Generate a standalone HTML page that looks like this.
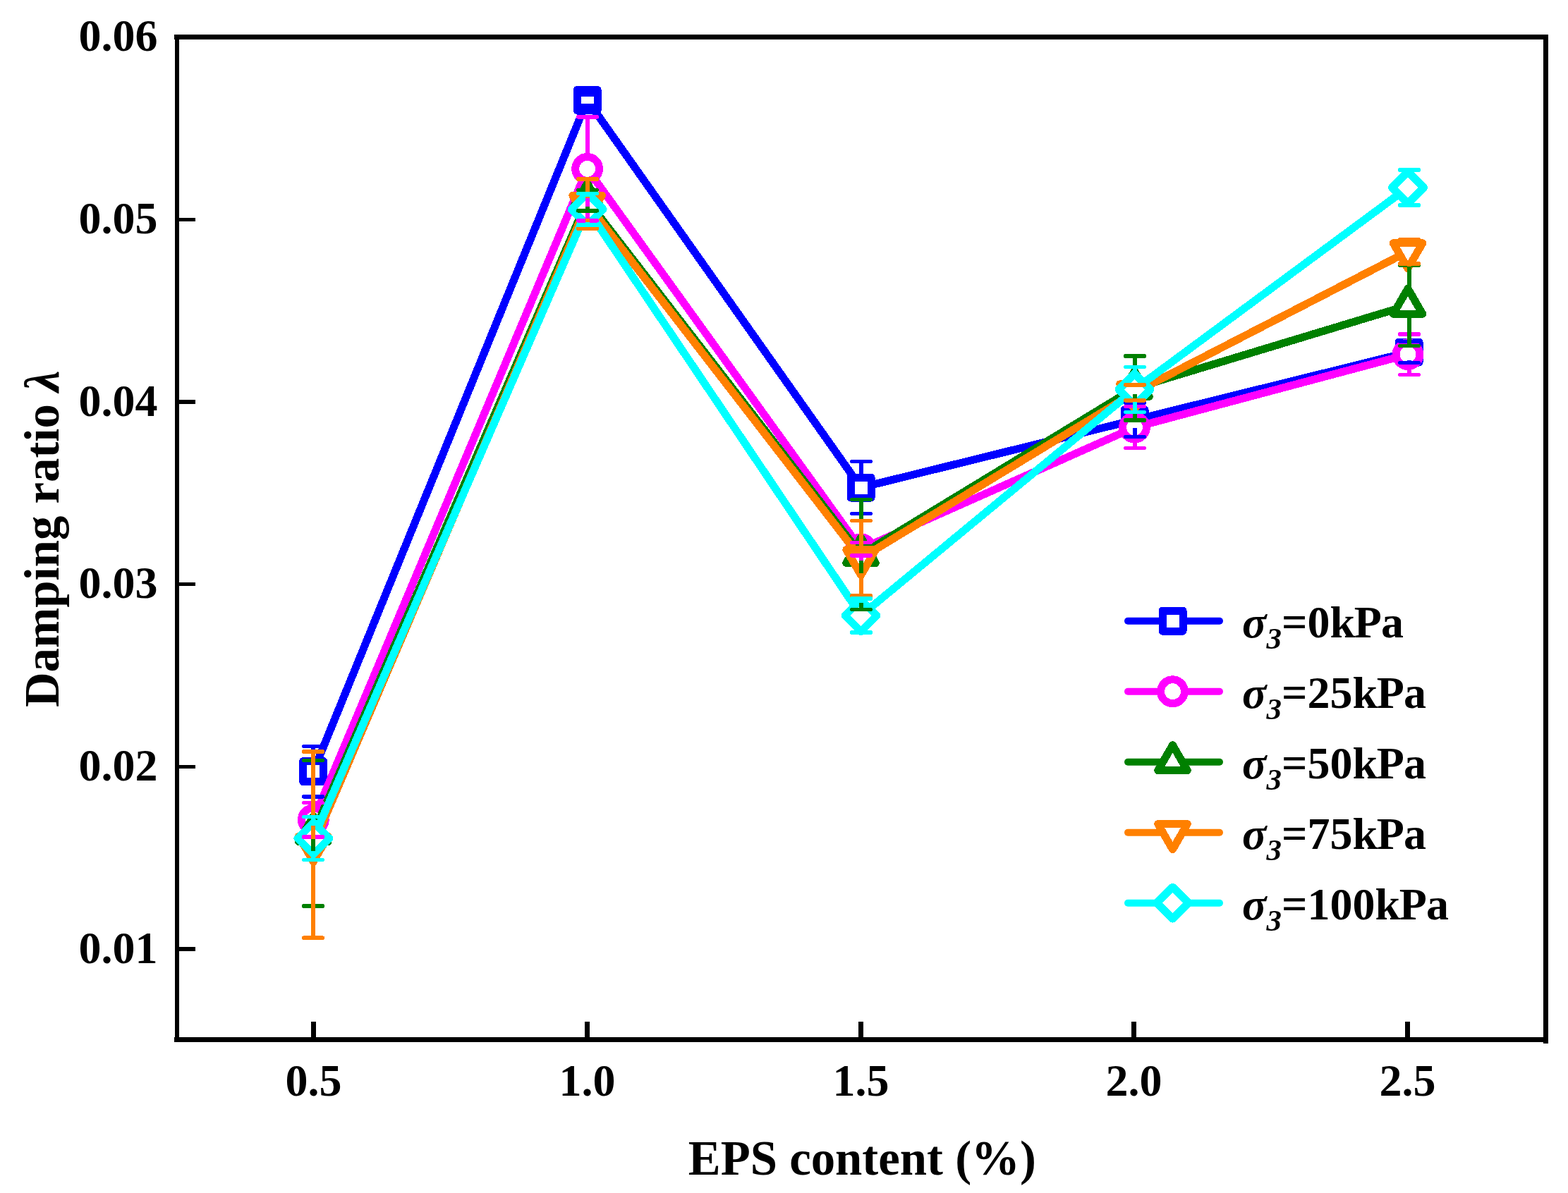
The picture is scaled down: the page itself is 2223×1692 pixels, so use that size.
<!DOCTYPE html>
<html><head><meta charset="utf-8"><title>Damping ratio vs EPS content</title>
<style>html,body{margin:0;padding:0;background:#fff;} svg{display:block;}</style></head>
<body><svg width="2223" height="1692" viewBox="0 0 2223 1692" shape-rendering="crispEdges">
<rect x="0" y="0" width="2223" height="1692" fill="#fff"/>
<g fill="#000">
<rect x="247" y="49" width="1948" height="7"/>
<rect x="247" y="1471" width="1948" height="7"/>
<rect x="248" y="49" width="6" height="1429"/>
<rect x="2188" y="49" width="7" height="1431"/>
<rect x="254" y="308.65" width="23" height="5.5"/>
<rect x="254" y="567.30" width="23" height="5.5"/>
<rect x="254" y="825.95" width="23" height="5.5"/>
<rect x="254" y="1084.60" width="23" height="5.5"/>
<rect x="254" y="1343.25" width="23" height="5.5"/>
<rect x="441.00" y="1449" width="7" height="22"/>
<rect x="828.90" y="1449" width="7" height="22"/>
<rect x="1217.00" y="1449" width="7" height="22"/>
<rect x="1604.00" y="1449" width="7" height="22"/>
<rect x="1992.00" y="1449" width="7" height="22"/>
</g>
<g stroke="#0000FF">
<polyline points="444.30,1094.10 832.60,142.00 1220.60,691.50 1608.50,595.70 1997.50,499.50" fill="none" stroke-width="11" stroke-linejoin="round"/>
<path d="M429.80,1079.60H458.80V1108.60H429.80Z" fill="#fff" stroke-width="11" stroke-linejoin="round"/>
<path d="M818.10,127.50H847.10V156.50H818.10Z" fill="#fff" stroke-width="11" stroke-linejoin="round"/>
<path d="M1206.10,677.00H1235.10V706.00H1206.10Z" fill="#fff" stroke-width="11" stroke-linejoin="round"/>
<path d="M1594.00,581.20H1623.00V610.20H1594.00Z" fill="#fff" stroke-width="11" stroke-linejoin="round"/>
<path d="M1983.00,485.00H2012.00V514.00H1983.00Z" fill="#fff" stroke-width="11" stroke-linejoin="round"/>
</g>
<g stroke="#FF00FF">
<polyline points="444.30,1162.75 832.60,239.40 1220.60,778.70 1608.50,606.10 1996.00,502.70" fill="none" stroke-width="11" stroke-linejoin="round"/>
<path d="M427.40,1162.75a16.9,16.9 0 1,0 33.8,0a16.9,16.9 0 1,0 -33.8,0Z" fill="#fff" stroke-width="11" stroke-linejoin="round"/>
<path d="M815.70,239.40a16.9,16.9 0 1,0 33.8,0a16.9,16.9 0 1,0 -33.8,0Z" fill="#fff" stroke-width="11" stroke-linejoin="round"/>
<path d="M1203.70,778.70a16.9,16.9 0 1,0 33.8,0a16.9,16.9 0 1,0 -33.8,0Z" fill="#fff" stroke-width="11" stroke-linejoin="round"/>
<path d="M1591.60,606.10a16.9,16.9 0 1,0 33.8,0a16.9,16.9 0 1,0 -33.8,0Z" fill="#fff" stroke-width="11" stroke-linejoin="round"/>
<path d="M1979.10,502.70a16.9,16.9 0 1,0 33.8,0a16.9,16.9 0 1,0 -33.8,0Z" fill="#fff" stroke-width="11" stroke-linejoin="round"/>
</g>
<g stroke="#008000">
<polyline points="444.30,1181.75 832.60,284.20 1220.60,786.50 1608.50,550.50 1996.00,433.25" fill="none" stroke-width="11" stroke-linejoin="round"/>
<path d="M444.30,1157.75L465.08,1193.75L423.52,1193.75Z" fill="#fff" stroke-width="11" stroke-linejoin="round"/>
<path d="M832.60,260.20L853.38,296.20L811.82,296.20Z" fill="#fff" stroke-width="11" stroke-linejoin="round"/>
<path d="M1220.60,762.50L1241.38,798.50L1199.82,798.50Z" fill="#fff" stroke-width="11" stroke-linejoin="round"/>
<path d="M1608.50,526.50L1629.28,562.50L1587.72,562.50Z" fill="#fff" stroke-width="11" stroke-linejoin="round"/>
<path d="M1996.00,409.25L2016.78,445.25L1975.22,445.25Z" fill="#fff" stroke-width="11" stroke-linejoin="round"/>
</g>
<g stroke="#FF8000">
<polyline points="444.30,1198.10 832.60,289.00 1220.60,791.70 1608.50,556.80 1996.00,356.80" fill="none" stroke-width="11" stroke-linejoin="round"/>
<path d="M444.30,1222.10L465.08,1186.10L423.52,1186.10Z" fill="#fff" stroke-width="11" stroke-linejoin="round"/>
<path d="M832.60,313.00L853.38,277.00L811.82,277.00Z" fill="#fff" stroke-width="11" stroke-linejoin="round"/>
<path d="M1220.60,815.70L1241.38,779.70L1199.82,779.70Z" fill="#fff" stroke-width="11" stroke-linejoin="round"/>
<path d="M1608.50,580.80L1629.28,544.80L1587.72,544.80Z" fill="#fff" stroke-width="11" stroke-linejoin="round"/>
<path d="M1996.00,380.80L2016.78,344.80L1975.22,344.80Z" fill="#fff" stroke-width="11" stroke-linejoin="round"/>
</g>
<g stroke="#00FFFF">
<polyline points="444.30,1189.00 832.60,296.75 1220.60,873.00 1608.50,552.40 1996.00,266.00" fill="none" stroke-width="11" stroke-linejoin="round"/>
<path d="M444.30,1166.50L466.80,1189.00L444.30,1211.50L421.80,1189.00Z" fill="#fff" stroke-width="11" stroke-linejoin="round"/>
<path d="M832.60,274.25L855.10,296.75L832.60,319.25L810.10,296.75Z" fill="#fff" stroke-width="11" stroke-linejoin="round"/>
<path d="M1220.60,850.50L1243.10,873.00L1220.60,895.50L1198.10,873.00Z" fill="#fff" stroke-width="11" stroke-linejoin="round"/>
<path d="M1608.50,529.90L1631.00,552.40L1608.50,574.90L1586.00,552.40Z" fill="#fff" stroke-width="11" stroke-linejoin="round"/>
<path d="M1996.00,243.50L2018.50,266.00L1996.00,288.50L1973.50,266.00Z" fill="#fff" stroke-width="11" stroke-linejoin="round"/>
</g>
<g stroke="#0000FF" fill="none">
<line x1="444.0" y1="1058.30" x2="444.0" y2="1082.70" stroke-width="6"/>
<line x1="444.0" y1="1105.50" x2="444.0" y2="1129.90" stroke-width="6"/>
<line x1="833.0" y1="134.50" x2="833.0" y2="130.60" stroke-width="6"/>
<line x1="833.0" y1="153.40" x2="833.0" y2="149.50" stroke-width="6"/>
<line x1="1221.0" y1="654.50" x2="1221.0" y2="680.10" stroke-width="6"/>
<line x1="1221.0" y1="702.90" x2="1221.0" y2="728.50" stroke-width="6"/>
<line x1="1609.0" y1="571.70" x2="1609.0" y2="584.30" stroke-width="6"/>
<line x1="1609.0" y1="607.10" x2="1609.0" y2="619.70" stroke-width="6"/>
<line x1="1998.0" y1="484.50" x2="1998.0" y2="488.10" stroke-width="6"/>
<line x1="1998.0" y1="510.90" x2="1998.0" y2="514.50" stroke-width="6"/>
<line x1="430.75" y1="1058.30" x2="457.25" y2="1058.30" stroke-width="5.5" stroke-linecap="round"/>
<line x1="430.75" y1="1129.90" x2="457.25" y2="1129.90" stroke-width="5.5" stroke-linecap="round"/>
<line x1="819.75" y1="134.50" x2="846.25" y2="134.50" stroke-width="5.5" stroke-linecap="round"/>
<line x1="819.75" y1="149.50" x2="846.25" y2="149.50" stroke-width="5.5" stroke-linecap="round"/>
<line x1="1207.75" y1="654.50" x2="1234.25" y2="654.50" stroke-width="5.5" stroke-linecap="round"/>
<line x1="1207.75" y1="728.50" x2="1234.25" y2="728.50" stroke-width="5.5" stroke-linecap="round"/>
<line x1="1595.75" y1="571.70" x2="1622.25" y2="571.70" stroke-width="5.5" stroke-linecap="round"/>
<line x1="1595.75" y1="619.70" x2="1622.25" y2="619.70" stroke-width="5.5" stroke-linecap="round"/>
<line x1="1984.75" y1="484.50" x2="2011.25" y2="484.50" stroke-width="5.5" stroke-linecap="round"/>
<line x1="1984.75" y1="514.50" x2="2011.25" y2="514.50" stroke-width="5.5" stroke-linecap="round"/>
</g>
<g stroke="#FF00FF" fill="none">
<line x1="444.0" y1="1138.50" x2="444.0" y2="1145.45" stroke-width="6"/>
<line x1="444.0" y1="1180.05" x2="444.0" y2="1187.00" stroke-width="6"/>
<line x1="833.0" y1="165.90" x2="833.0" y2="222.10" stroke-width="6"/>
<line x1="833.0" y1="256.70" x2="833.0" y2="312.90" stroke-width="6"/>
<line x1="1221.0" y1="769.50" x2="1221.0" y2="761.40" stroke-width="6"/>
<line x1="1221.0" y1="796.00" x2="1221.0" y2="787.90" stroke-width="6"/>
<line x1="1609.0" y1="576.70" x2="1609.0" y2="588.80" stroke-width="6"/>
<line x1="1609.0" y1="623.40" x2="1609.0" y2="635.50" stroke-width="6"/>
<line x1="1998.0" y1="474.00" x2="1998.0" y2="485.40" stroke-width="6"/>
<line x1="1998.0" y1="520.00" x2="1998.0" y2="531.40" stroke-width="6"/>
<line x1="430.75" y1="1138.50" x2="457.25" y2="1138.50" stroke-width="5.5" stroke-linecap="round"/>
<line x1="430.75" y1="1187.00" x2="457.25" y2="1187.00" stroke-width="5.5" stroke-linecap="round"/>
<line x1="819.75" y1="165.90" x2="846.25" y2="165.90" stroke-width="5.5" stroke-linecap="round"/>
<line x1="819.75" y1="312.90" x2="846.25" y2="312.90" stroke-width="5.5" stroke-linecap="round"/>
<line x1="1207.75" y1="769.50" x2="1234.25" y2="769.50" stroke-width="5.5" stroke-linecap="round"/>
<line x1="1207.75" y1="787.90" x2="1234.25" y2="787.90" stroke-width="5.5" stroke-linecap="round"/>
<line x1="1595.75" y1="576.70" x2="1622.25" y2="576.70" stroke-width="5.5" stroke-linecap="round"/>
<line x1="1595.75" y1="635.50" x2="1622.25" y2="635.50" stroke-width="5.5" stroke-linecap="round"/>
<line x1="1984.75" y1="474.00" x2="2011.25" y2="474.00" stroke-width="5.5" stroke-linecap="round"/>
<line x1="1984.75" y1="531.40" x2="2011.25" y2="531.40" stroke-width="5.5" stroke-linecap="round"/>
</g>
<g stroke="#008000" fill="none">
<line x1="444.0" y1="1078.50" x2="444.0" y2="1160.75" stroke-width="6"/>
<line x1="444.0" y1="1190.25" x2="444.0" y2="1285.00" stroke-width="6"/>
<line x1="833.0" y1="269.50" x2="833.0" y2="263.20" stroke-width="6"/>
<line x1="833.0" y1="292.70" x2="833.0" y2="298.90" stroke-width="6"/>
<line x1="1221.0" y1="708.50" x2="1221.0" y2="765.50" stroke-width="6"/>
<line x1="1221.0" y1="795.00" x2="1221.0" y2="864.50" stroke-width="6"/>
<line x1="1609.0" y1="505.00" x2="1609.0" y2="529.50" stroke-width="6"/>
<line x1="1609.0" y1="559.00" x2="1609.0" y2="596.00" stroke-width="6"/>
<line x1="1998.0" y1="376.00" x2="1998.0" y2="412.25" stroke-width="6"/>
<line x1="1998.0" y1="441.75" x2="1998.0" y2="490.50" stroke-width="6"/>
<line x1="430.75" y1="1078.50" x2="457.25" y2="1078.50" stroke-width="5.5" stroke-linecap="round"/>
<line x1="430.75" y1="1285.00" x2="457.25" y2="1285.00" stroke-width="5.5" stroke-linecap="round"/>
<line x1="819.75" y1="269.50" x2="846.25" y2="269.50" stroke-width="5.5" stroke-linecap="round"/>
<line x1="819.75" y1="298.90" x2="846.25" y2="298.90" stroke-width="5.5" stroke-linecap="round"/>
<line x1="1207.75" y1="708.50" x2="1234.25" y2="708.50" stroke-width="5.5" stroke-linecap="round"/>
<line x1="1207.75" y1="864.50" x2="1234.25" y2="864.50" stroke-width="5.5" stroke-linecap="round"/>
<line x1="1595.75" y1="505.00" x2="1622.25" y2="505.00" stroke-width="5.5" stroke-linecap="round"/>
<line x1="1595.75" y1="596.00" x2="1622.25" y2="596.00" stroke-width="5.5" stroke-linecap="round"/>
<line x1="1984.75" y1="376.00" x2="2011.25" y2="376.00" stroke-width="5.5" stroke-linecap="round"/>
<line x1="1984.75" y1="490.50" x2="2011.25" y2="490.50" stroke-width="5.5" stroke-linecap="round"/>
</g>
<g stroke="#FF8000" fill="none">
<line x1="444.0" y1="1066.00" x2="444.0" y2="1189.60" stroke-width="6"/>
<line x1="444.0" y1="1219.10" x2="444.0" y2="1330.20" stroke-width="6"/>
<line x1="833.0" y1="254.00" x2="833.0" y2="280.50" stroke-width="6"/>
<line x1="833.0" y1="310.00" x2="833.0" y2="324.00" stroke-width="6"/>
<line x1="1221.0" y1="738.50" x2="1221.0" y2="783.20" stroke-width="6"/>
<line x1="1221.0" y1="812.70" x2="1221.0" y2="844.90" stroke-width="6"/>
<line x1="1609.0" y1="545.80" x2="1609.0" y2="548.30" stroke-width="6"/>
<line x1="1609.0" y1="577.80" x2="1609.0" y2="567.80" stroke-width="6"/>
<line x1="1998.0" y1="339.60" x2="1998.0" y2="348.30" stroke-width="6"/>
<line x1="1998.0" y1="377.80" x2="1998.0" y2="374.00" stroke-width="6"/>
<line x1="430.75" y1="1066.00" x2="457.25" y2="1066.00" stroke-width="5.5" stroke-linecap="round"/>
<line x1="430.75" y1="1330.20" x2="457.25" y2="1330.20" stroke-width="5.5" stroke-linecap="round"/>
<line x1="819.75" y1="254.00" x2="846.25" y2="254.00" stroke-width="5.5" stroke-linecap="round"/>
<line x1="819.75" y1="324.00" x2="846.25" y2="324.00" stroke-width="5.5" stroke-linecap="round"/>
<line x1="1207.75" y1="738.50" x2="1234.25" y2="738.50" stroke-width="5.5" stroke-linecap="round"/>
<line x1="1207.75" y1="844.90" x2="1234.25" y2="844.90" stroke-width="5.5" stroke-linecap="round"/>
<line x1="1595.75" y1="545.80" x2="1622.25" y2="545.80" stroke-width="5.5" stroke-linecap="round"/>
<line x1="1595.75" y1="567.80" x2="1622.25" y2="567.80" stroke-width="5.5" stroke-linecap="round"/>
<line x1="1984.75" y1="339.60" x2="2011.25" y2="339.60" stroke-width="5.5" stroke-linecap="round"/>
<line x1="1984.75" y1="374.00" x2="2011.25" y2="374.00" stroke-width="5.5" stroke-linecap="round"/>
</g>
<g stroke="#00FFFF" fill="none">
<line x1="444.0" y1="1158.60" x2="444.0" y2="1171.00" stroke-width="6"/>
<line x1="444.0" y1="1207.00" x2="444.0" y2="1219.40" stroke-width="6"/>
<line x1="833.0" y1="274.50" x2="833.0" y2="278.75" stroke-width="6"/>
<line x1="833.0" y1="314.75" x2="833.0" y2="319.00" stroke-width="6"/>
<line x1="1221.0" y1="849.00" x2="1221.0" y2="855.00" stroke-width="6"/>
<line x1="1221.0" y1="891.00" x2="1221.0" y2="897.00" stroke-width="6"/>
<line x1="1609.0" y1="520.40" x2="1609.0" y2="534.40" stroke-width="6"/>
<line x1="1609.0" y1="570.40" x2="1609.0" y2="584.40" stroke-width="6"/>
<line x1="1998.0" y1="241.00" x2="1998.0" y2="248.00" stroke-width="6"/>
<line x1="1998.0" y1="284.00" x2="1998.0" y2="291.00" stroke-width="6"/>
<line x1="430.75" y1="1158.60" x2="457.25" y2="1158.60" stroke-width="5.5" stroke-linecap="round"/>
<line x1="430.75" y1="1219.40" x2="457.25" y2="1219.40" stroke-width="5.5" stroke-linecap="round"/>
<line x1="819.75" y1="274.50" x2="846.25" y2="274.50" stroke-width="5.5" stroke-linecap="round"/>
<line x1="819.75" y1="319.00" x2="846.25" y2="319.00" stroke-width="5.5" stroke-linecap="round"/>
<line x1="1207.75" y1="849.00" x2="1234.25" y2="849.00" stroke-width="5.5" stroke-linecap="round"/>
<line x1="1207.75" y1="897.00" x2="1234.25" y2="897.00" stroke-width="5.5" stroke-linecap="round"/>
<line x1="1595.75" y1="520.40" x2="1622.25" y2="520.40" stroke-width="5.5" stroke-linecap="round"/>
<line x1="1595.75" y1="584.40" x2="1622.25" y2="584.40" stroke-width="5.5" stroke-linecap="round"/>
<line x1="1984.75" y1="241.00" x2="2011.25" y2="241.00" stroke-width="5.5" stroke-linecap="round"/>
<line x1="1984.75" y1="291.00" x2="2011.25" y2="291.00" stroke-width="5.5" stroke-linecap="round"/>
</g>
<g font-family="Liberation Serif, Times New Roman, serif" font-weight="bold" font-size="64" fill="#000">
<text x="223.4" y="72.45" text-anchor="end">0.06</text>
<text x="223.4" y="331.10" text-anchor="end">0.05</text>
<text x="223.4" y="589.75" text-anchor="end">0.04</text>
<text x="223.4" y="848.40" text-anchor="end">0.03</text>
<text x="223.4" y="1107.05" text-anchor="end">0.02</text>
<text x="223.4" y="1365.70" text-anchor="end">0.01</text>
<text x="444.50" y="1554.4" text-anchor="middle">0.5</text>
<text x="832.40" y="1554.4" text-anchor="middle">1.0</text>
<text x="1220.50" y="1554.4" text-anchor="middle">1.5</text>
<text x="1607.50" y="1554.4" text-anchor="middle">2.0</text>
<text x="1995.50" y="1554.4" text-anchor="middle">2.5</text>
</g>
<g font-family="Liberation Serif, Times New Roman, serif" font-weight="bold" font-size="68.8" fill="#000">
<text x="975.8" y="1665.9">EPS content (%)</text>
<text transform="translate(83,1003.1) rotate(-90)">Damping ratio <tspan font-style="italic">λ</tspan></text>
</g>
<g stroke="#0000FF" fill="none">
<line x1="1599" y1="880.7" x2="1729" y2="880.7" stroke-width="10" stroke-linecap="round" shape-rendering="auto"/>
<path d="M1648.00,866.20H1677.00V895.20H1648.00Z" fill="#fff" stroke-width="11" stroke-linejoin="round"/>
</g>
<text x="1761" y="903.7" font-family="Liberation Serif, Times New Roman, serif" font-weight="bold" font-size="64" fill="#000"><tspan font-style="italic">σ</tspan><tspan font-style="italic" font-size="43" dy="16">3</tspan><tspan dy="-16">=0k</tspan><tspan dx="-1.2">P</tspan><tspan dx="-1">a</tspan></text>
<g stroke="#FF00FF" fill="none">
<line x1="1599" y1="980.7" x2="1729" y2="980.7" stroke-width="10" stroke-linecap="round" shape-rendering="auto"/>
<path d="M1645.60,980.70a16.9,16.9 0 1,0 33.8,0a16.9,16.9 0 1,0 -33.8,0Z" fill="#fff" stroke-width="11" stroke-linejoin="round"/>
</g>
<text x="1761" y="1003.7" font-family="Liberation Serif, Times New Roman, serif" font-weight="bold" font-size="64" fill="#000"><tspan font-style="italic">σ</tspan><tspan font-style="italic" font-size="43" dy="16">3</tspan><tspan dy="-16">=25k</tspan><tspan dx="-1.2">P</tspan><tspan dx="-1">a</tspan></text>
<g stroke="#008000" fill="none">
<line x1="1599" y1="1080.7" x2="1729" y2="1080.7" stroke-width="10" stroke-linecap="round" shape-rendering="auto"/>
<path d="M1662.50,1056.70L1683.28,1092.70L1641.72,1092.70Z" fill="#fff" stroke-width="11" stroke-linejoin="round"/>
</g>
<text x="1761" y="1103.7" font-family="Liberation Serif, Times New Roman, serif" font-weight="bold" font-size="64" fill="#000"><tspan font-style="italic">σ</tspan><tspan font-style="italic" font-size="43" dy="16">3</tspan><tspan dy="-16">=50k</tspan><tspan dx="-1.2">P</tspan><tspan dx="-1">a</tspan></text>
<g stroke="#FF8000" fill="none">
<line x1="1599" y1="1180.7" x2="1729" y2="1180.7" stroke-width="10" stroke-linecap="round" shape-rendering="auto"/>
<path d="M1662.50,1204.70L1683.28,1168.70L1641.72,1168.70Z" fill="#fff" stroke-width="11" stroke-linejoin="round"/>
</g>
<text x="1761" y="1203.7" font-family="Liberation Serif, Times New Roman, serif" font-weight="bold" font-size="64" fill="#000"><tspan font-style="italic">σ</tspan><tspan font-style="italic" font-size="43" dy="16">3</tspan><tspan dy="-16">=75k</tspan><tspan dx="-1.2">P</tspan><tspan dx="-1">a</tspan></text>
<g stroke="#00FFFF" fill="none">
<line x1="1599" y1="1280.7" x2="1729" y2="1280.7" stroke-width="10" stroke-linecap="round" shape-rendering="auto"/>
<path d="M1662.50,1258.20L1685.00,1280.70L1662.50,1303.20L1640.00,1280.70Z" fill="#fff" stroke-width="11" stroke-linejoin="round"/>
</g>
<text x="1761" y="1303.7" font-family="Liberation Serif, Times New Roman, serif" font-weight="bold" font-size="64" fill="#000"><tspan font-style="italic">σ</tspan><tspan font-style="italic" font-size="43" dy="16">3</tspan><tspan dy="-16">=100k</tspan><tspan dx="-1.2">P</tspan><tspan dx="-1">a</tspan></text>
</svg></body></html>
